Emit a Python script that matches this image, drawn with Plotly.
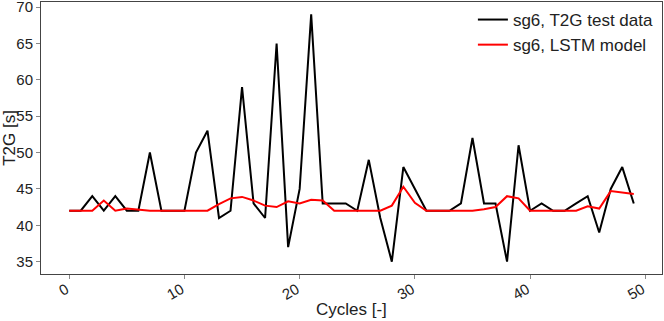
import plotly.graph_objects as go

cycles = list(range(50))

t2g_test = [42, 42, 44, 42, 44, 42, 42, 50, 42, 42,
            42, 50, 53, 41, 42, 59, 43, 41, 65, 37,
            45, 69, 43, 43, 43, 42, 49, 41, 35, 48,
            45, 42, 42, 42, 43, 52, 43, 43, 35, 51,
            42, 43, 42, 42, 43, 44, 39, 45, 48, 43]

lstm_model = [42, 42, 42, 43.4, 42, 42.3, 42.1, 42, 42, 42,
              42, 42, 42, 42.9, 43.7, 43.9, 43.4, 42.7, 42.5, 43.3,
              43.0, 43.5, 43.4, 42, 42, 42, 42, 42, 42.7, 45.3,
              43.1, 42, 42, 42, 42, 42, 42.2, 42.5, 44.0, 43.7,
              42, 42, 42, 42, 42, 42.6, 42.3, 44.7, 44.5, 44.3]

x_ticks = [0, 10, 20, 30, 40, 50]
y_ticks = [35, 40, 45, 50, 55, 60, 65, 70]

fig = go.Figure()
fig.add_trace(go.Scatter(x=cycles, y=t2g_test, mode="lines",
                         line=dict(color="black", width=2),
                         name="sg6, T2G test data"))
fig.add_trace(go.Scatter(x=cycles, y=lstm_model, mode="lines",
                         line=dict(color="red", width=2),
                         name="sg6, LSTM model"))

axis_style = dict(showline=True, linecolor="#444", linewidth=1, mirror=True,
                  ticks="outside", ticklen=4, tickcolor="#888",
                  showgrid=False, zeroline=False, automargin=False,
                  ticklabeloverflow="allow",
                  tickfont=dict(size=15, color="#222"))

fig.update_layout(
    width=664, height=321,
    margin=dict(l=41, r=2, t=2, b=47),
    plot_bgcolor="white", paper_bgcolor="white",
    font=dict(family="Liberation Sans, Arial, sans-serif", color="#222"),
    xaxis=dict(range=[-2.45, 51.45], tickvals=x_ticks, tickangle=-30,
               ticklabelstandoff=-4, ticklabelshift=-3,
               **axis_style),
    yaxis=dict(range=[33.3, 70.7], tickvals=y_ticks,
               title=dict(text="T2G [s]", font=dict(size=17), standoff=2),
               **axis_style),
    legend=dict(x=0.995, y=1.0, xanchor="right", yanchor="top",
                bgcolor="rgba(0,0,0,0)", font=dict(size=17, color="#222"),
                tracegroupgap=0),
    showlegend=True,
)

# x axis title placed below the rotated tick labels
fig.add_annotation(text="Cycles [-]", xref="paper", yref="paper",
                   x=0.5, y=0, yanchor="middle", yshift=-35,
                   showarrow=False, font=dict(size=17, color="#222"))

fig.write_html("out.html", config={"displayModeBar": False},
               post_script="document.body.style.margin='0';")
